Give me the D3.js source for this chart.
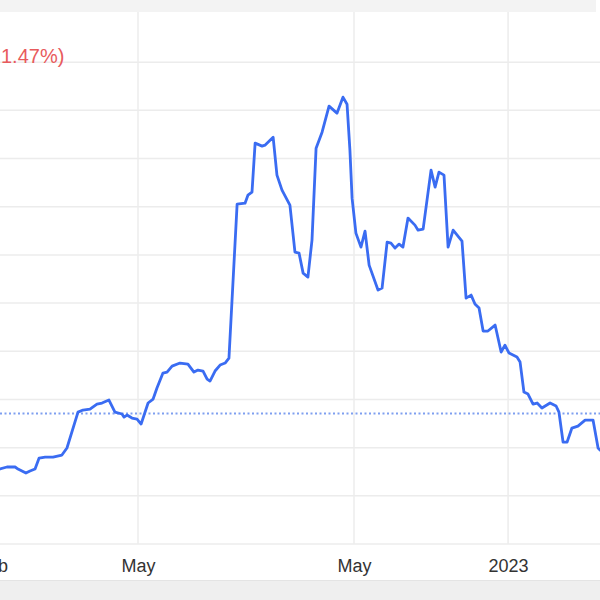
<!DOCTYPE html>
<html>
<head>
<meta charset="utf-8">
<script src="https://cdn.jsdelivr.net/npm/d3@7"></script>
<style>
  html, body { margin: 0; padding: 0; background: #fff; }
  svg { display: block; }
</style>
</head>
<body>
<svg id="chart" width="600" height="600"></svg>
<script>
// ---- data ----
const days = [0,2.9,6.3,7.5,10.8,12.5,14.6,16.3,18.8,22.1,25.8,27.9,32.5,34.6,37.5,40.4,42.5,45.4,47.9,50.8,51.7,52.9,55,57.1,58.8,61.7,63.8,65.4,67.9,69.6,71.7,75,78.3,80.8,82.5,84.6,86.3,87.5,89.6,91.7,93.8,95.4,98.8,102.1,103.3,105,106.3,109.2,110.4,113.8,115.4,117.5,120.8,122.9,124.6,126.3,128.3,130,131.7,134.2,137.1,140.4,142.9,144.6,145.8,146.7,148.3,150.4,152.1,153.8,157.5,159.2,161.3,162.9,164.6,166.3,167.9,170,172.9,174.2,176.3,179.6,181.3,182.9,185,186.7,188.8,192.5,194.2,196.3,197.9,199.6,201.3,203.3,206.3,208.8,210.4,212.1,215.4,216.7,218.3,220,222.1,223.8,225.8,229.2,231.7,232.9,234.6,236.3,238.3,240.8,243.8,247.1,249.2,250];
const prices = [27.78,27.99,27.99,27.78,27.37,27.57,27.78,28.92,29.02,29.02,29.23,29.96,33.69,33.90,34.00,34.52,34.63,34.94,33.69,33.49,33.17,33.38,33.07,32.97,32.45,34.63,35.04,36.18,37.74,37.84,38.46,38.78,38.67,37.84,38.05,37.95,37.12,36.91,37.95,38.57,38.78,39.29,55.27,55.37,56.20,56.51,61.60,61.29,61.39,62.22,58.28,56.72,55.17,50.29,50.19,48.11,47.70,51.54,61.08,62.74,65.44,64.71,66.37,65.64,60.87,55.89,52.26,50.81,52.47,48.94,46.35,46.56,51.33,51.22,50.71,51.12,50.81,53.82,53.09,52.57,52.68,58.80,57.03,58.59,58.28,50.81,52.57,51.43,45.52,45.83,44.90,44.48,42.10,42.10,42.72,39.92,40.64,39.81,39.40,38.88,35.77,35.56,34.52,34.63,34.11,34.63,34.32,33.69,30.58,30.58,32.03,32.24,32.86,32.86,29.96,29.75];
const prevClose = 33.54;
const gridValues = [20,25,30,35,40,45,50,55,60,65,70];
const tickDays = [-3.3, 57.5, 147.5, 211.7];
const tickLabels = ["Feb", "May", "May", "2023"];
const changeText = "1.47%)";

// ---- scales ----
const x = d3.scaleLinear().domain([0, 250]).range([0, 600]);
const y = d3.scaleLinear().domain([20, 75]).range([544, 14]);

const svg = d3.select("#chart");

// header band and footer band
svg.append("rect").attr("x", 0).attr("y", 0).attr("width", 596).attr("height", 12).attr("fill", "#f3f3f3");
svg.append("rect").attr("x", 0).attr("y", 580).attr("width", 600).attr("height", 20).attr("fill", "#efefef");
svg.append("line").attr("x1", 0).attr("x2", 600).attr("y1", 580.5).attr("y2", 580.5).attr("stroke", "#e4e4e4");

// horizontal grid
svg.append("g").selectAll("line").data(gridValues).join("line")
  .attr("x1", 0).attr("x2", 600)
  .attr("y1", d => y(d)).attr("y2", d => y(d))
  .attr("stroke", "#ececec").attr("stroke-width", 1.5);

// tick labels via axis
const xAxis = d3.axisBottom(x).tickValues(tickDays)
  .tickFormat((d, i) => tickLabels[i]).tickSize(0).tickPadding(0);
const ax = svg.append("g").attr("transform", "translate(0,572)").call(xAxis);
ax.select(".domain").remove();
ax.selectAll("text")
  .attr("dy", 0).attr("fill", "#333")
  .style("font-family", "'Liberation Sans', Arial, sans-serif")
  .style("font-size", "18px");

// vertical grid
svg.append("g").selectAll("line").data(tickDays).join("line")
  .attr("x1", d => x(d)).attr("x2", d => x(d))
  .attr("y1", 12).attr("y2", 544)
  .attr("stroke", "#ececec").attr("stroke-width", 1.5);

// previous close dotted line
svg.append("line")
  .attr("x1", 0).attr("x2", 600)
  .attr("y1", y(prevClose)).attr("y2", y(prevClose))
  .attr("stroke", "#7f9ff0").attr("stroke-width", 1.8)
  .attr("stroke-dasharray", "2,2.5");

// price line
const line = d3.line().x((d, i) => x(days[i])).y(d => y(d));
svg.append("path").datum(prices)
  .attr("d", line)
  .attr("fill", "none")
  .attr("stroke", "#3a6cf2")
  .attr("stroke-width", 2.8)
  .attr("stroke-linejoin", "round")
  .attr("stroke-linecap", "round");

// change text
svg.append("text")
  .attr("x", 1).attr("y", 63)
  .attr("fill", "#e85b5d")
  .style("font-family", "'Liberation Sans', Arial, sans-serif")
  .style("font-size", "20px")
  .text(changeText);
</script>
</body>
</html>
